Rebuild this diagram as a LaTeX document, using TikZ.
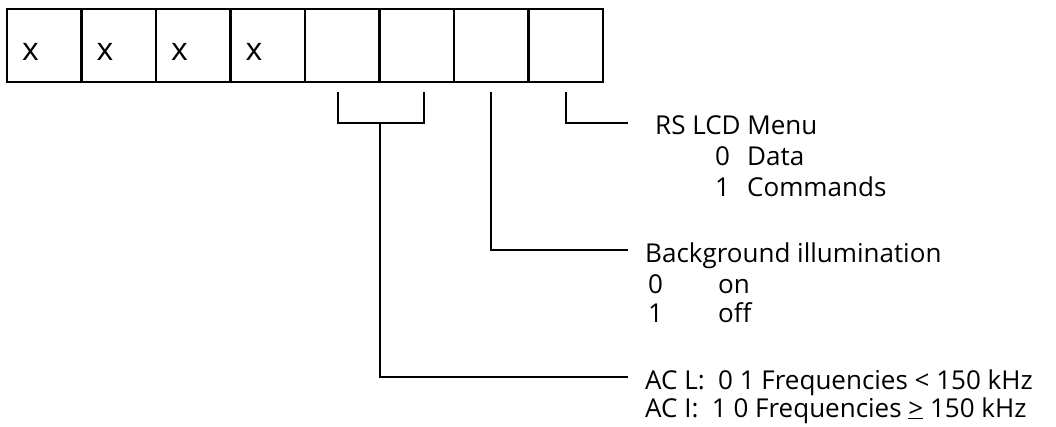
\documentclass[tikz,border=0pt]{standalone}
\usepackage{fontspec}
\setmainfont{Open Sans}
\usetikzlibrary{positioning}

\begin{document}
\begin{tikzpicture}[
      x=1pt, y=1pt,
      cell/.style={rectangle, draw, line width=2.2pt, outer sep=0pt, inner xsep=15pt,
                   minimum width=74.5pt, minimum height=73pt, text width=44.5pt, align=left,
                   text height=30pt, text depth=0pt, font=\fontsize{32}{34}\selectfont},
      wire/.style={line width=2pt},
      lbl/.style={anchor=west, inner sep=0pt, text height=24pt, text depth=0pt,
                  font=\fontsize{26}{30}\selectfont}
    ]
      \useasboundingbox (0,0) rectangle (1056,-427);
      % register bits
      \node[cell] (c1) at (44.25,-45.5) {x};
      \node[cell, right=0pt of c1] (c2) {x};
      \node[cell, right=0pt of c2] (c3) {x};
      \node[cell, right=0pt of c3] (c4) {x};
      \node[cell, right=0pt of c4] (c5) {};
      \node[cell, right=0pt of c5] (c6) {};
      \node[cell, right=0pt of c6] (c7) {};
      \node[cell, right=0pt of c7] (c8) {};
      % descriptions
      \node[lbl] (rs) at (655,-123) {RS LCD Menu};
      \node[lbl] (rsdata) at (715,-154) {\makebox[32pt][l]{0}Data};
      \node[lbl] (rscmd) at (715,-185) {\makebox[32pt][l]{1}Commands};
      \node[lbl] (bg) at (645,-250) {Background illumination};
      \node[lbl] (bgon) at (648,-282) {\makebox[70pt][l]{0}on};
      \node[lbl] (bgoff) at (648,-310) {\makebox[70pt][l]{1}off};
      \node[lbl] (acl) at (645,-377) {AC L:\ \ 0 1 Frequencies < 150 kHz};
      \node[lbl] (aci) at (645,-405) {AC I:\ \ 1 0 Frequencies \underline{>} 150 kHz};
      % connectors
      \coordinate (brl) at ([xshift=-4pt, yshift=-10pt]c5.south);
      \coordinate (brr) at ([xshift=7pt, yshift=-10pt]c6.south);
      \coordinate (brb) at ([yshift=-41pt]c5.south east);
      \draw[wire] (brl) |- (brb) -| (brr);
      \draw[wire] (brb) |- ([xshift=-17pt]acl.west);
      \draw[wire] ([yshift=-10pt]c7.south) |- ([xshift=-17pt]bg.west);
      \draw[wire] ([yshift=-10pt]c8.south) |- ([xshift=-27pt]rs.west);
    \end{tikzpicture}
\end{document}
